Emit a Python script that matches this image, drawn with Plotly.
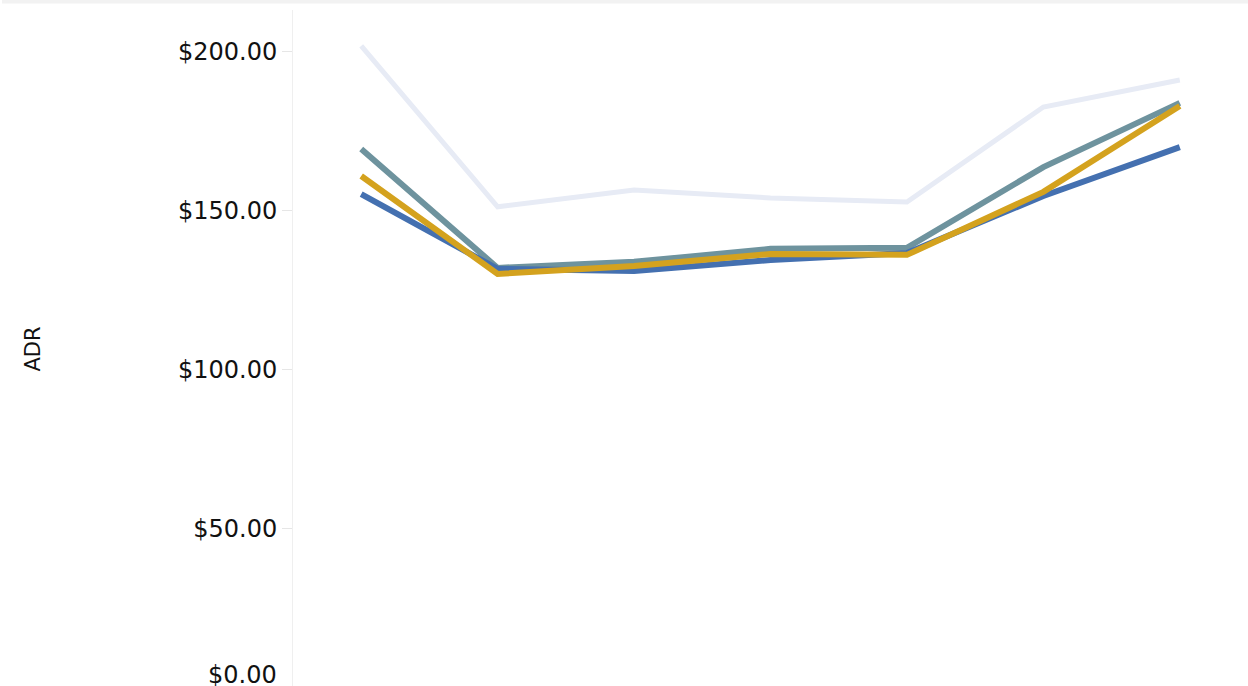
import plotly.graph_objects as go

# Day-of-week categories along the x axis
days = ["Sat", "Sun", "Mon", "Tue", "Wed", "Thu", "Fri"]

# Average daily rate per series
market_adr = [201.9, 151.3, 156.6, 154.1, 152.8, 182.7, 191.2]
compset_adr = [169.5, 132.1, 134.0, 138.1, 138.4, 163.8, 184.0]
property_adr = [155.3, 131.8, 131.1, 134.6, 136.8, 154.7, 170.1]
forecast_adr = [161.0, 130.2, 132.7, 136.5, 136.2, 156.0, 183.0]

# Y-axis ticks (the bottom label is drawn separately so it stays inside the page)
tick_vals = [0, 50, 100, 150, 200]
tick_text = ["$0.00", "$50.00", "$100.00", "$150.00", "$200.00"]

series = [
    ("Market", market_adr, "#e7ebf5", 5),
    ("Comp Set", compset_adr, "#6e939e", 6),
    ("My Property", property_adr, "#4470b0", 6),
    ("Forecast", forecast_adr, "#d4a21e", 6),
]

fig = go.Figure()
for name, vals, color, width in series:
    fig.add_trace(go.Scatter(
        x=days, y=vals, name=name, mode="lines",
        line=dict(color=color, width=width),
    ))

W, H = 1248, 740
ML, MR, MT, MB = 293, 0, 10, 52
FONT = "DejaVu Sans, Verdana, sans-serif"
TICK_SIZE = 24

fig.update_layout(
    width=W, height=H, autosize=False,
    margin=dict(l=ML, r=MR, t=MT, b=MB, pad=0),
    paper_bgcolor="white", plot_bgcolor="white",
    showlegend=False,
    font=dict(family=FONT, color="#111111"),
    xaxis=dict(
        type="category", range=[-0.5, 6.5],
        showgrid=False, zeroline=False, showline=False,
        ticks="", showticklabels=False,
    ),
    yaxis=dict(
        range=[0, 213.2],
        tickvals=tick_vals, ticktext=[""] + tick_text[1:],
        tickfont=dict(size=TICK_SIZE, color="#111111"),
        ticks="outside", ticklen=10, tickcolor="#e6e6e6", tickwidth=1,
        showgrid=False, zeroline=False,
        showline=True, linecolor="#efefef", linewidth=1,
        title=dict(text="ADR", font=dict(size=21, color="#111111"), standoff=131),
        automargin=False,
    ),
)

plot_w = W - ML - MR
plot_h = H - MT - MB
def px_to_paper_x(px):
    return (px - ML) / plot_w
def px_to_paper_y(py):
    return (MT + plot_h - py) / plot_h

# Bottom tick label, nudged up into the visible page
fig.add_annotation(
    text=tick_text[0], xref="paper", yref="paper",
    x=px_to_paper_x(279), y=px_to_paper_y(675),
    xanchor="right", yanchor="middle", showarrow=False,
    font=dict(family=FONT, size=TICK_SIZE, color="#111111"),
)

# Thin grey band across the top of the page
fig.add_shape(
    type="rect", xref="paper", yref="paper",
    x0=px_to_paper_x(2), x1=px_to_paper_x(1250),
    y0=px_to_paper_y(3.5), y1=px_to_paper_y(-1),
    fillcolor="#f2f2f2", line=dict(width=0), layer="above",
)

fig.write_html(
    "out.html",
    post_script="document.documentElement.style.overflow='hidden';document.body.style.overflow='hidden';",
)
